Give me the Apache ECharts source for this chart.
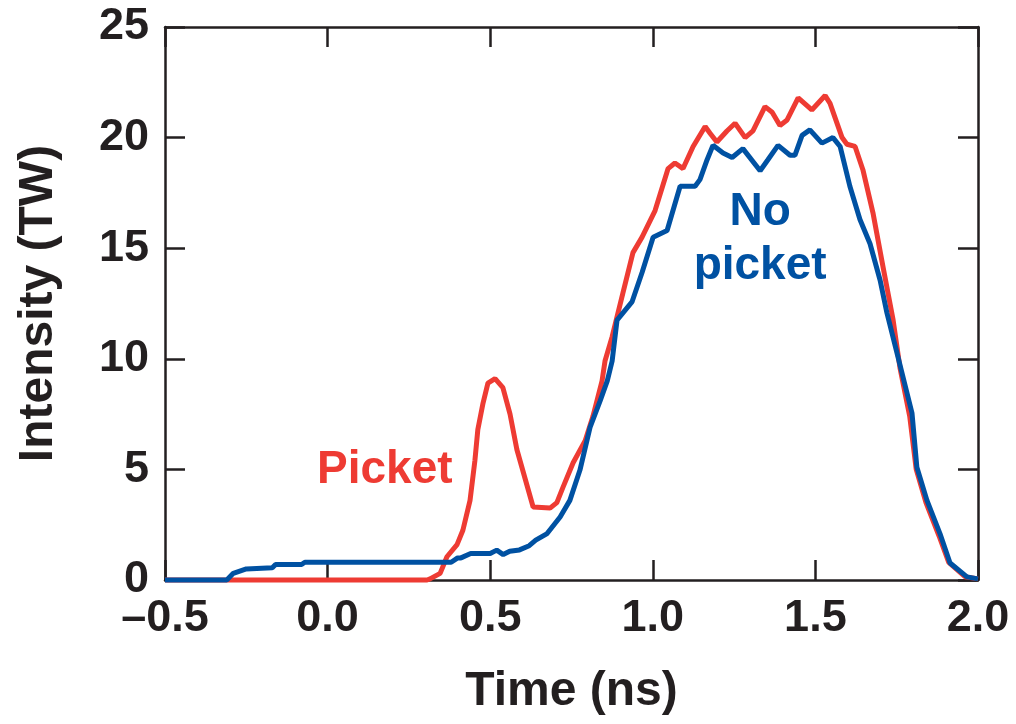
<!DOCTYPE html>
<html>
<head>
<meta charset="utf-8">
<script src="https://cdn.jsdelivr.net/npm/echarts@6/dist/echarts.min.js"></script>
<style>
  html, body { margin: 0; padding: 0; background: #fff; }
  #chart { width: 1016px; height: 724px; }
</style>
</head>
<body>
<div id="chart"></div>
<script>
// Picket pulse (red)
const picketTime = [-0.5, 0.306, 0.315, 0.346, 0.367, 0.398, 0.416, 0.438, 0.453, 0.462, 0.478, 0.493, 0.515, 0.539, 0.561, 0.582,
  0.632, 0.684, 0.705, 0.724, 0.755, 0.792, 0.816, 0.844, 0.853, 0.875, 0.908, 0.939, 0.967, 1.007, 1.047, 1.068, 1.093, 1.124,
  1.161, 1.176, 1.197, 1.228, 1.253, 1.284, 1.308, 1.345, 1.367, 1.391, 1.413, 1.447, 1.489, 1.53, 1.545, 1.582, 1.597, 1.622,
  1.646, 1.677, 1.708, 1.739, 1.76, 1.79, 1.81, 1.84, 1.88, 1.91, 1.96, 2.0];
const picketIntensity = [0, 0, 0.05, 0.3, 1.05, 1.6, 2.25, 3.6, 5.4, 6.8, 8.0, 8.9, 9.1, 8.7, 7.5, 5.9,
  3.3, 3.25, 3.5, 4.2, 5.3, 6.3, 7.4, 9.0, 9.9, 11.0, 12.97, 14.8, 15.5, 16.7, 18.6, 18.85, 18.6, 19.6,
  20.5, 20.2, 19.8, 20.3, 20.65, 20.0, 20.3, 21.4, 21.15, 20.55, 20.8, 21.8, 21.25, 21.9, 21.55, 20.0, 19.7, 19.6,
  18.55, 16.6, 14.15, 11.75, 9.6, 7.4, 5.0, 3.5, 2.0, 0.8, 0.15, 0.05];

// No picket pulse (blue)
const noPicketTime = [-0.5, -0.31, -0.29, -0.25, -0.17, -0.16, -0.08, -0.07, 0.38, 0.40, 0.41, 0.44, 0.50, 0.52, 0.54, 0.56,
  0.59, 0.62, 0.64, 0.675, 0.715, 0.745, 0.776, 0.807, 0.838, 0.86, 0.875, 0.89, 0.936, 0.967, 1.001, 1.044, 1.084, 1.13,
  1.145, 1.167, 1.185, 1.216, 1.244, 1.277, 1.33, 1.354, 1.385, 1.422, 1.437, 1.459, 1.483, 1.52, 1.554, 1.576, 1.606, 1.637,
  1.668, 1.699, 1.72, 1.751, 1.797, 1.812, 1.843, 1.883, 1.914, 1.966, 2.0];
const noPicketIntensity = [0, 0, 0.3, 0.5, 0.55, 0.7, 0.7, 0.8, 0.8, 1.0, 1.0, 1.2, 1.2, 1.35, 1.15, 1.3,
  1.36, 1.55, 1.8, 2.1, 2.85, 3.6, 4.97, 6.9, 8.1, 9.0, 9.9, 11.75, 12.57, 13.9, 15.5, 15.8, 17.8, 17.8,
  18.1, 19.0, 19.65, 19.3, 19.1, 19.5, 18.5, 19.0, 19.65, 19.2, 19.2, 20.1, 20.35, 19.75, 20.0, 19.6, 17.8, 16.3,
  15.2, 13.55, 12.07, 10.26, 7.55, 5.1, 3.6, 2.1, 0.77, 0.14, 0.05];

const labelPicket = 'Picket';
const labelNoPicket = 'No\npicket';

const RED = '#ee3b33';
const BLUE = '#0051a2';
const INK = '#231f20';
const FONT = '"Liberation Sans", Arial, sans-serif';

const zip = (xs, ys) => xs.map((x, i) => [x, ys[i]]);

const chart = echarts.init(document.getElementById('chart'));

const tickStyle = { show: true, inside: true, length: 20, lineStyle: { color: INK, width: 2.5 } };
const lineStyle = { show: true, onZero: false, lineStyle: { color: INK, width: 2.5 } };

chart.setOption({
  animation: false,
  grid: { left: 165, right: 38, top: 27, bottom: 144 },
  xAxis: [{
    type: 'value', min: -0.5, max: 2.0, interval: 0.5,
    axisLine: lineStyle, axisTick: tickStyle, splitLine: { show: false },
    axisLabel: {
      margin: 16, fontSize: 45, fontWeight: 'bold', color: INK, fontFamily: FONT,
      formatter: (v) => (v < 0 ? '\u2013' + Math.abs(v).toFixed(1) : v.toFixed(1)),
    },
    name: 'Time (ns)', nameLocation: 'middle', nameGap: 88,
    nameTextStyle: { fontSize: 48, fontWeight: 'bold', color: INK, fontFamily: FONT },
  }, {
    type: 'value', position: 'top', min: -0.5, max: 2.0, interval: 0.5,
    axisLine: lineStyle, axisTick: tickStyle, splitLine: { show: false }, axisLabel: { show: false },
  }],
  yAxis: [{
    type: 'value', min: 0, max: 25, interval: 5,
    axisLine: lineStyle, axisTick: tickStyle, splitLine: { show: false },
    axisLabel: { margin: 16, fontSize: 45, fontWeight: 'bold', color: INK, fontFamily: FONT },
    name: 'Intensity (TW)', nameLocation: 'middle', nameGap: 102,
    nameTextStyle: { fontSize: 48, fontWeight: 'bold', color: INK, fontFamily: FONT },
  }, {
    type: 'value', position: 'right', min: 0, max: 25, interval: 5,
    axisLine: lineStyle, axisTick: tickStyle, splitLine: { show: false }, axisLabel: { show: false },
  }],
  series: [{
    name: 'Picket', type: 'line', data: zip(picketTime, picketIntensity),
    showSymbol: false, clip: false, lineStyle: { color: RED, width: 5 },
  }, {
    name: 'No picket', type: 'line', data: zip(noPicketTime, noPicketIntensity),
    showSymbol: false, clip: false, lineStyle: { color: BLUE, width: 5 },
  }],
});

// annotation positions in data space
const pPicket = chart.convertToPixel({ gridIndex: 0 }, [0.176, 4.97]);
const pNoPicket = chart.convertToPixel({ gridIndex: 0 }, [1.33, 15.4]);

chart.setOption({
  graphic: [{
    type: 'text', x: pPicket[0], y: pPicket[1],
    style: { text: labelPicket, fill: RED, font: 'bold 46px ' + FONT, align: 'center', verticalAlign: 'middle' },
  }, {
    type: 'text', x: pNoPicket[0], y: pNoPicket[1],
    style: { text: labelNoPicket, fill: BLUE, font: 'bold 46px ' + FONT, lineHeight: 54, align: 'center', verticalAlign: 'middle' },
  }],
});
</script>
</body>
</html>
